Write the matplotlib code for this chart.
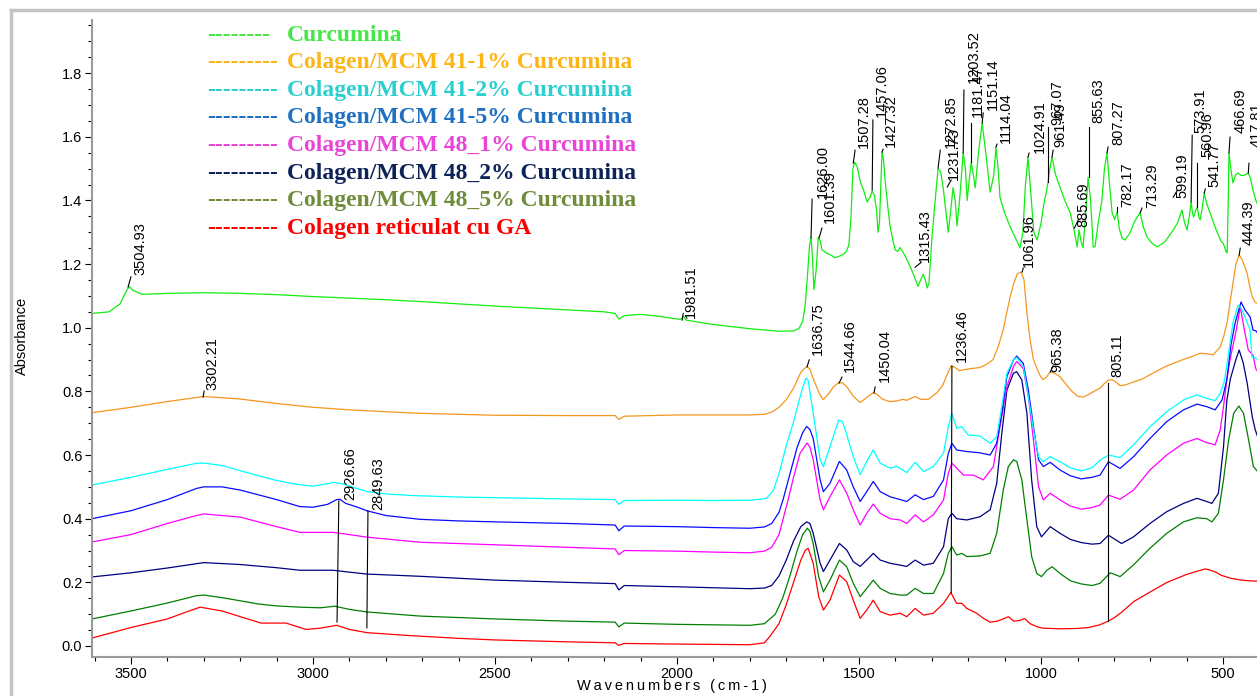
import matplotlib
matplotlib.use('Agg')
import matplotlib.pyplot as plt
from matplotlib.ticker import MultipleLocator, FormatStrFormatter
from matplotlib.lines import Line2D

plt.rcParams['font.family'] = ['Liberation Sans', 'DejaVu Sans']

# ---------------- spectra (wavenumber, absorbance) ----------------
wn_cur = [3607, 3560, 3530, 3515, 3505, 3495, 3470, 3400, 3300, 3200, 3100, 3000, 2900, 2800, 2700, 2600,
          2500, 2400, 2300, 2200, 2170, 2160, 2145, 2100, 2050, 1990, 1982, 1975, 1900, 1800, 1720, 1680,
          1665, 1655, 1648, 1642, 1636, 1632, 1628, 1624, 1618, 1612, 1606, 1602, 1590, 1580, 1566, 1554,
          1544, 1535, 1528, 1522, 1517, 1512, 1505, 1497, 1487, 1478, 1470, 1464, 1458, 1452, 1448, 1444,
          1440, 1437, 1433, 1429, 1422, 1415, 1408, 1401, 1394, 1387, 1378, 1368, 1355, 1338, 1331, 1324,
          1318, 1313, 1308, 1300, 1291, 1283, 1276, 1269, 1262, 1255, 1249, 1242, 1236, 1231, 1224, 1214,
          1208, 1203, 1197, 1192, 1186, 1181, 1172, 1162, 1152, 1140, 1130, 1124, 1118, 1113, 1100, 1085,
          1070, 1058, 1050, 1043, 1036, 1028, 1020, 1011, 1000, 992, 985, 981, 976, 970, 960, 948, 935,
          920, 910, 901, 896, 890, 885, 878, 871, 864, 857, 852, 843, 833, 826, 819, 812, 805, 798, 791,
          785, 777, 769, 756, 745, 735, 728, 720, 709, 695, 681, 660, 637, 625, 613, 606, 599, 593, 588,
          584, 581, 575, 571, 567, 563, 557, 552, 545, 536, 520, 505, 500, 492, 489, 486, 484, 479, 473,
          466, 459, 450, 440, 431, 425, 418, 410, 403]
ab_cur = [1.045, 1.05, 1.075, 1.11, 1.13, 1.118, 1.105, 1.108, 1.11, 1.108, 1.104, 1.098, 1.093, 1.088, 1.082, 1.075,
          1.068, 1.062, 1.056, 1.05, 1.045, 1.027, 1.038, 1.042, 1.036, 1.026, 1.036, 1.024, 1.01, 0.997, 0.989, 0.99,
          0.998, 1.02, 1.07, 1.16, 1.26, 1.285, 1.22, 1.12, 1.18, 1.285, 1.27, 1.245, 1.235, 1.23, 1.22, 1.225,
          1.23, 1.24, 1.26, 1.35, 1.50, 1.52, 1.505, 1.46, 1.43, 1.395, 1.41, 1.43, 1.415, 1.37, 1.30, 1.33,
          1.46, 1.552, 1.53, 1.47, 1.39, 1.32, 1.28, 1.245, 1.24, 1.252, 1.235, 1.213, 1.18, 1.13, 1.15, 1.168,
          1.15, 1.125, 1.14, 1.28, 1.40, 1.50, 1.49, 1.44, 1.37, 1.30, 1.36, 1.44, 1.40, 1.32, 1.40, 1.55,
          1.50, 1.40, 1.47, 1.52, 1.48, 1.44, 1.55, 1.643, 1.55, 1.426, 1.48, 1.567, 1.50, 1.41, 1.36, 1.317,
          1.28, 1.251, 1.30, 1.45, 1.536, 1.42, 1.30, 1.276, 1.33, 1.392, 1.43, 1.458, 1.50, 1.536, 1.48, 1.442, 1.40,
          1.361, 1.31, 1.254, 1.307, 1.27, 1.251, 1.35, 1.473, 1.40, 1.254, 1.254, 1.33, 1.401, 1.50, 1.549, 1.45, 1.361, 1.34, 1.364,
          1.31, 1.28, 1.276, 1.298, 1.33, 1.35, 1.361, 1.32, 1.285, 1.265, 1.254, 1.27, 1.307, 1.33, 1.37, 1.33, 1.307, 1.35, 1.395,
          1.36, 1.348, 1.37, 1.379, 1.35, 1.339, 1.38, 1.423, 1.39, 1.361, 1.31, 1.27, 1.266, 1.24, 1.235, 1.40, 1.549, 1.50, 1.455,
          1.48, 1.486, 1.478, 1.48, 1.486, 1.47, 1.433, 1.40, 1.38]

wn_41_1 = [3607, 3500, 3400, 3300, 3200, 3100, 3000, 2900, 2800, 2700, 2600, 2500, 2300, 2170, 2160, 2145,
           2000, 1900, 1800, 1760, 1740, 1720, 1700, 1680, 1660, 1650, 1643, 1635, 1626, 1610, 1599, 1585,
           1570, 1555, 1545, 1534, 1516, 1497, 1480, 1461, 1450, 1435, 1415, 1396, 1380, 1369, 1346, 1330,
           1310, 1286, 1270, 1258, 1247, 1236, 1225, 1214, 1190, 1168, 1150, 1132, 1118, 1104, 1094, 1085,
           1075, 1065, 1055, 1047, 1039, 1030, 1021, 1011, 1003, 995, 985, 975, 965, 948, 930, 915, 900,
           885, 870, 855, 838, 826, 815, 805, 795, 783, 770, 750, 720, 700, 655, 610, 580, 563, 545, 527,
           508, 498, 489, 481, 473, 465, 456, 448, 440, 434, 427, 420, 412, 403]
ab_41_1 = [0.733, 0.75, 0.768, 0.784, 0.776, 0.762, 0.75, 0.742, 0.736, 0.731, 0.728, 0.725, 0.724, 0.724, 0.712, 0.722,
           0.726, 0.726, 0.726, 0.728, 0.735, 0.75, 0.774, 0.81, 0.86, 0.872, 0.878, 0.87, 0.84, 0.795, 0.774, 0.79,
           0.815, 0.828, 0.826, 0.815, 0.785, 0.765, 0.78, 0.796, 0.79, 0.775, 0.768, 0.77, 0.775, 0.772, 0.784, 0.775,
           0.775, 0.796, 0.82, 0.853, 0.88, 0.875, 0.865, 0.868, 0.872, 0.875, 0.885, 0.90, 0.94, 0.994, 1.05, 1.097,
           1.14, 1.17, 1.175, 1.15, 1.047, 0.96, 0.90, 0.87, 0.85, 0.837, 0.845, 0.862, 0.858, 0.846, 0.82, 0.80, 0.785,
           0.782, 0.79, 0.80, 0.81, 0.825, 0.835, 0.837, 0.83, 0.818, 0.82, 0.828, 0.84, 0.853, 0.88, 0.90, 0.912, 0.92, 0.918, 0.915,
           0.94, 0.975, 1.016, 1.08, 1.14, 1.20, 1.229, 1.215, 1.19, 1.17, 1.13, 1.097, 1.08, 1.075]

wn_41_2 = [3607, 3500, 3400, 3320, 3300, 3250, 3150, 3100, 3050, 3000, 2960, 2945, 2920, 2880, 2850, 2800,
           2733, 2600, 2500, 2400, 2300, 2170, 2160, 2145, 2000, 1900, 1800, 1765, 1753, 1735, 1717, 1700,
           1681, 1665, 1657, 1646, 1640, 1626, 1607, 1598, 1580, 1556, 1546, 1538, 1516, 1497, 1479, 1461,
           1442, 1415, 1396, 1369, 1346, 1323, 1296, 1268, 1255, 1245, 1232, 1218, 1200, 1168, 1140, 1122,
           1108, 1094, 1076, 1067, 1049, 1035, 1021, 1007, 994, 975, 948, 920, 890, 860, 838, 815, 783, 746,
           701, 655, 609, 572, 545, 522, 508, 497, 485, 473, 459, 450, 440, 426, 421, 412, 403]
ab_41_2 = [0.506, 0.53, 0.555, 0.574, 0.575, 0.567, 0.535, 0.52, 0.509, 0.502, 0.51, 0.514, 0.51, 0.495, 0.485, 0.478,
           0.473, 0.468, 0.466, 0.464, 0.462, 0.46, 0.445, 0.457, 0.458, 0.457, 0.458, 0.462, 0.465, 0.49, 0.553, 0.63,
           0.70, 0.77, 0.804, 0.842, 0.835, 0.731, 0.585, 0.564, 0.626, 0.71, 0.705, 0.679, 0.595, 0.538, 0.58, 0.616,
           0.574, 0.559, 0.564, 0.545, 0.577, 0.548, 0.564, 0.606, 0.689, 0.731, 0.684, 0.689, 0.663, 0.66, 0.637, 0.658,
           0.752, 0.857, 0.899, 0.907, 0.878, 0.783, 0.679, 0.595, 0.579, 0.595, 0.579, 0.56, 0.55, 0.56, 0.584, 0.60, 0.592, 0.632,
           0.689, 0.736, 0.773, 0.789, 0.778, 0.771, 0.794, 0.83, 0.92, 1.015, 1.071, 1.06, 1.034, 0.993, 0.908, 0.905, 0.90]

wn_41_5 = [3607, 3500, 3400, 3320, 3300, 3250, 3200, 3100, 3036, 3000, 2960, 2935, 2926, 2910, 2880, 2852,
           2800, 2706, 2600, 2500, 2300, 2170, 2160, 2145, 2000, 1900, 1800, 1760, 1740, 1720, 1709, 1690,
           1670, 1655, 1644, 1635, 1626, 1607, 1598, 1580, 1554, 1534, 1516, 1497, 1479, 1461, 1442, 1415,
           1387, 1369, 1346, 1323, 1296, 1268, 1255, 1245, 1232, 1204, 1168, 1140, 1122, 1108, 1094, 1076,
           1067, 1049, 1035, 1021, 1007, 994, 975, 948, 920, 890, 860, 838, 815, 783, 746, 701, 655, 609,
           572, 545, 522, 503, 490, 478, 467, 451, 440, 426, 418, 410, 403]
ab_41_5 = [0.40, 0.425, 0.46, 0.495, 0.50, 0.50, 0.49, 0.46, 0.438, 0.436, 0.445, 0.46, 0.461, 0.448, 0.437, 0.425,
           0.41, 0.398, 0.393, 0.39, 0.385, 0.38, 0.362, 0.377, 0.375, 0.372, 0.37, 0.374, 0.385, 0.42, 0.459, 0.54,
           0.625, 0.67, 0.69, 0.68, 0.652, 0.522, 0.485, 0.511, 0.58, 0.553, 0.50, 0.454, 0.485, 0.517, 0.485, 0.469,
           0.46, 0.454, 0.475, 0.46, 0.47, 0.522, 0.605, 0.637, 0.616, 0.611, 0.607, 0.60, 0.637, 0.731, 0.846, 0.899,
           0.911, 0.888, 0.804, 0.689, 0.585, 0.564, 0.577, 0.553, 0.535, 0.525, 0.53, 0.537, 0.579, 0.558, 0.595, 0.652, 0.705, 0.742,
           0.76, 0.752, 0.742, 0.773, 0.836, 0.95, 1.015, 1.081, 1.056, 1.034, 0.993, 0.99, 0.98]

wn_48_1 = [3607, 3500, 3400, 3320, 3300, 3200, 3100, 3036, 2945, 2900, 2852, 2706, 2500, 2300, 2170, 2160,
           2145, 2000, 1900, 1800, 1760, 1740, 1720, 1695, 1680, 1662, 1643, 1635, 1626, 1607, 1598, 1580,
           1554, 1534, 1516, 1497, 1479, 1461, 1442, 1415, 1387, 1369, 1346, 1323, 1296, 1268, 1255, 1245,
           1232, 1213, 1186, 1159, 1131, 1113, 1094, 1076, 1067, 1049, 1035, 1021, 1007, 994, 975, 948, 920,
           890, 860, 838, 815, 783, 746, 701, 655, 609, 572, 545, 522, 508, 499, 490, 481, 464, 453, 440,
           431, 418, 410, 403]
ab_48_1 = [0.327, 0.35, 0.385, 0.41, 0.415, 0.405, 0.375, 0.357, 0.357, 0.35, 0.342, 0.326, 0.318, 0.31, 0.305, 0.287,
           0.30, 0.298, 0.295, 0.293, 0.298, 0.31, 0.35, 0.459, 0.53, 0.606, 0.638, 0.625, 0.585, 0.459, 0.428, 0.469,
           0.522, 0.48, 0.428, 0.38, 0.417, 0.446, 0.417, 0.40, 0.396, 0.385, 0.412, 0.39, 0.412, 0.459, 0.543, 0.574,
           0.559, 0.537, 0.537, 0.522, 0.564, 0.689, 0.815, 0.878, 0.894, 0.872, 0.783, 0.647, 0.50, 0.459, 0.48, 0.459, 0.44,
           0.43, 0.435, 0.443, 0.474, 0.461, 0.49, 0.553, 0.60, 0.637, 0.652, 0.639, 0.632, 0.679, 0.752, 0.836, 0.90, 0.993, 1.065, 0.983,
           0.93, 0.914, 0.87, 0.86]

wn_48_2 = [3607, 3500, 3400, 3300, 3200, 3100, 3036, 2945, 2900, 2852, 2706, 2500, 2300, 2170, 2160, 2145,
           2000, 1900, 1800, 1760, 1740, 1720, 1700, 1680, 1660, 1644, 1635, 1626, 1607, 1598, 1580, 1554,
           1534, 1516, 1497, 1479, 1461, 1442, 1415, 1387, 1369, 1346, 1323, 1296, 1268, 1255, 1245, 1232,
           1204, 1168, 1140, 1122, 1108, 1094, 1076, 1067, 1053, 1039, 1026, 1012, 999, 975, 948, 920, 890,
           860, 838, 815, 779, 746, 701, 655, 609, 572, 545, 531, 513, 499, 490, 480, 465, 456, 445, 434,
           420, 412, 403]
ab_48_2 = [0.217, 0.23, 0.245, 0.262, 0.256, 0.246, 0.238, 0.238, 0.232, 0.226, 0.219, 0.207, 0.20, 0.196, 0.176, 0.19,
           0.186, 0.183, 0.18, 0.182, 0.19, 0.22, 0.27, 0.33, 0.375, 0.39, 0.385, 0.354, 0.26, 0.234, 0.27, 0.322,
           0.302, 0.265, 0.25, 0.27, 0.291, 0.27, 0.26, 0.254, 0.25, 0.27, 0.254, 0.26, 0.312, 0.40, 0.417, 0.40,
           0.396, 0.406, 0.428, 0.511, 0.668, 0.804, 0.857, 0.862, 0.836, 0.731, 0.522, 0.375, 0.343, 0.375, 0.354, 0.335, 0.325,
           0.32, 0.322, 0.348, 0.322, 0.343, 0.385, 0.422, 0.448, 0.464, 0.454, 0.448, 0.48, 0.626, 0.77, 0.84, 0.90, 0.93, 0.89, 0.826,
           0.72, 0.68, 0.65]

wn_48_5 = [3607, 3500, 3400, 3320, 3300, 3250, 3150, 3100, 3036, 2980, 2940, 2900, 2852, 2706, 2500, 2300,
           2170, 2160, 2145, 2000, 1800, 1760, 1730, 1710, 1690, 1670, 1655, 1642, 1635, 1626, 1611, 1598,
           1580, 1554, 1534, 1516, 1497, 1479, 1461, 1442, 1415, 1387, 1369, 1346, 1323, 1296, 1268, 1255,
           1245, 1232, 1218, 1204, 1168, 1140, 1122, 1104, 1090, 1076, 1067, 1053, 1039, 1026, 1012, 999, 984,
           970, 948, 920, 890, 860, 838, 810, 783, 746, 701, 655, 609, 572, 545, 531, 513, 499, 485, 471,
           457, 444, 430, 417, 403]
ab_48_5 = [0.085, 0.11, 0.135, 0.158, 0.16, 0.152, 0.132, 0.126, 0.122, 0.12, 0.125, 0.115, 0.107, 0.094, 0.085, 0.078,
           0.075, 0.06, 0.072, 0.068, 0.065, 0.07, 0.10, 0.15, 0.22, 0.30, 0.35, 0.37, 0.36, 0.322, 0.218, 0.17,
           0.207, 0.27, 0.249, 0.197, 0.155, 0.181, 0.207, 0.181, 0.165, 0.16, 0.16, 0.181, 0.165, 0.165, 0.228, 0.291,
           0.312, 0.286, 0.291, 0.281, 0.283, 0.291, 0.354, 0.49, 0.564, 0.585, 0.58, 0.522, 0.396, 0.281, 0.228, 0.218, 0.238,
           0.249, 0.228, 0.205, 0.195, 0.19, 0.197, 0.23, 0.218, 0.255, 0.307, 0.354, 0.39, 0.403, 0.40, 0.39, 0.417, 0.522, 0.647, 0.731,
           0.754, 0.731, 0.647, 0.564, 0.545]

wn_ga = [3607, 3500, 3400, 3340, 3310, 3250, 3143, 3074, 3019, 2980, 2935, 2900, 2852, 2739, 2600, 2500,
         2300, 2170, 2160, 2145, 2000, 1800, 1760, 1745, 1720, 1700, 1680, 1660, 1648, 1640, 1626, 1611,
         1598, 1580, 1554, 1534, 1516, 1497, 1479, 1461, 1442, 1415, 1387, 1369, 1346, 1323, 1296, 1268,
         1248, 1232, 1218, 1204, 1177, 1159, 1140, 1120, 1100, 1090, 1075, 1060, 1045, 1030, 1010, 995, 950,
         900, 870, 840, 816, 800, 780, 760, 745, 700, 654, 600, 571, 550, 540, 520, 505, 480, 450, 430,
         409, 403]
ab_ga = [0.025, 0.058, 0.085, 0.11, 0.122, 0.11, 0.072, 0.072, 0.052, 0.056, 0.065, 0.052, 0.042, 0.033, 0.024, 0.019,
         0.013, 0.01, 0.002, 0.008, 0.006, 0.004, 0.01, 0.03, 0.07, 0.13, 0.20, 0.27, 0.30, 0.307, 0.26, 0.155,
         0.113, 0.144, 0.223, 0.202, 0.144, 0.087, 0.113, 0.144, 0.108, 0.097, 0.103, 0.092, 0.118, 0.097, 0.103, 0.134,
         0.168, 0.134, 0.134, 0.118, 0.103, 0.087, 0.075, 0.078, 0.087, 0.092, 0.078, 0.08, 0.086, 0.07, 0.06, 0.056, 0.054,
         0.055, 0.058, 0.066, 0.078, 0.088, 0.105, 0.125, 0.14, 0.17, 0.20, 0.225, 0.235, 0.242, 0.24, 0.232, 0.222, 0.213, 0.207, 0.205,
         0.204, 0.203]

# legend text and colours
names = ['Curcumina', 'Colagen/MCM 41-1% Curcumina', 'Colagen/MCM 41-2% Curcumina',
         'Colagen/MCM 41-5% Curcumina', 'Colagen/MCM 48_1% Curcumina', 'Colagen/MCM 48_2% Curcumina',
         'Colagen/MCM 48_5% Curcumina', 'Colagen reticulat cu GA']
line_cols = ['#10ee10', '#f5961e', '#00ffff', '#0a0aff', '#ff00ff', '#000080', '#008000', '#ff0000']
text_cols = ['#44e844', '#fdb515', '#2ccfcf', '#1f70c1', '#e845d8', '#0d2257', '#6f8c3a', '#ff0000']

# peak labels: text, text x, text bottom y, leader line (x0, y0, x1, y1)
peaks = [
    ('3504.93', 3475, 1.165, 3508, 1.128, 3500, 1.16),
    ('1981.51', 1962, 1.03, 1986, 1.024, 1983, 1.045),
    ('1626.00', 1599, 1.407, 1632, 1.282, 1629, 1.404),
    ('1601.39', 1580, 1.329, 1610, 1.282, 1602, 1.313),
    ('1507.28', 1486, 1.565, 1516, 1.517, 1511, 1.558),
    ('1457.06', 1437, 1.662, 1464, 1.433, 1462, 1.653),
    ('1427.32', 1412, 1.568, 1437, 1.552, 1434, 1.561),
    ('1315.43', 1319, 1.206, 1346, 1.19, 1330, 1.205),
    ('1272.85', 1247, 1.565, 1283, 1.502, 1277, 1.558),
    ('1231.73', 1239, 1.464, 1258, 1.442, 1247, 1.464),
    ('1203.52', 1184, 1.769, 1214, 1.549, 1212, 1.747),
    ('1181.47', 1173, 1.662, 1192, 1.521, 1192, 1.643),
    ('1151.14', 1132, 1.684, 1162, 1.643, 1159, 1.675),
    ('1114.04', 1096, 1.58, 1124, 1.568, 1121, 1.577),
    ('1061.96', 1033, 1.191, 1052, 1.175, 1049, 1.188),
    ('1024.91', 1003, 1.549, 1036, 1.536, 1033, 1.549),
    ('967.07', 956, 1.637, 981, 1.458, 981, 1.631),
    ('961.49', 948, 1.568, 970, 1.536, 967, 1.558),
    ('885.69', 885, 1.316, 909, 1.313, 898, 1.338),
    ('855.63', 843, 1.643, 868, 1.473, 868, 1.631),
    ('807.27', 788, 1.574, 819, 1.549, 816, 1.568),
    ('782.17', 764, 1.379, 791, 1.364, 791, 1.379),
    ('713.29', 695, 1.376, 728, 1.361, 723, 1.376),
    ('599.19', 613, 1.407, 637, 1.41, 627, 1.43),
    ('573.91', 561, 1.612, 588, 1.395, 585, 1.605),
    ('560.96', 544, 1.536, 571, 1.379, 571, 1.517),
    ('541.77', 525, 1.442, 552, 1.423, 549, 1.436),
    ('466.69', 453, 1.612, 484, 1.549, 481, 1.599),
    ('417.81', 407, 1.568, 431, 1.486, 429, 1.517),
    ('3302.21', 3277, 0.804, 3302, 0.782, 3299, 0.801),
    ('1636.75', 1613, 0.914, 1643, 0.877, 1637, 0.899),
    ('1544.66', 1525, 0.861, 1555, 0.826, 1547, 0.845),
    ('1450.04', 1429, 0.829, 1459, 0.795, 1456, 0.814),
    ('1236.46', 1217, 0.892, 1247, 0.167, 1245, 0.88),
    ('965.38', 956, 0.861, 975, 0.861, 967, 0.88),
    ('805.11', 791, 0.845, 817, 0.079, 817, 0.826),
    ('444.39', 429, 1.26, 456, 1.228, 453, 1.25),
    ('2926.66', 2898, 0.459, 2934, 0.075, 2929, 0.456),
    ('2849.63', 2821, 0.427, 2852, 0.057, 2849, 0.424),
]

W, H = 1257, 696
fig = plt.figure(figsize=(W / 100, H / 100), dpi=100)
ax = fig.add_axes([92 / W, 1 - 657 / H, (W - 92) / W, (657 - 20) / H])

spectra = [(wn_ga, ab_ga, 7), (wn_48_5, ab_48_5, 6), (wn_48_2, ab_48_2, 5), (wn_48_1, ab_48_1, 4),
           (wn_41_5, ab_41_5, 3), (wn_41_2, ab_41_2, 2), (wn_41_1, ab_41_1, 1), (wn_cur, ab_cur, 0)]
for wn, ab, i in spectra:
    ax.plot(wn, ab, color=line_cols[i], lw=0.9)

# peak labels
for lab, tx, ty, x0, y0, x1, y1 in peaks:
    ax.plot([x0, x1], [y0, y1], color='black', lw=0.8)
    ax.text(tx, ty, lab, rotation=90, ha='center', va='bottom', fontsize=10.5, color='black')

ax.set_xlim(3607, 407)
ax.set_ylim(-0.0346, 1.967)
ax.xaxis.set_major_locator(MultipleLocator(500))
ax.xaxis.set_minor_locator(MultipleLocator(100))
ax.yaxis.set_major_locator(MultipleLocator(0.2))
ax.yaxis.set_minor_locator(MultipleLocator(0.05))
ax.yaxis.set_major_formatter(FormatStrFormatter('%.1f'))
ax.tick_params(which='major', direction='out', length=5, width=0.8, labelsize=10.5, pad=2)
ax.tick_params(which='minor', direction='out', length=3, width=0.8)
for s in ['top', 'right']:
    ax.spines[s].set_visible(False)
for s in ['left', 'bottom']:
    ax.spines[s].set_color('#9a9a9a')
    ax.spines[s].set_linewidth(1.5)

fig.text(22 / W, 1 - 336 / H, 'Absorbance', rotation=90, ha='center', va='center', fontsize=10.5)
fig.text(672 / W, 1 - 686 / H, '\u2009'.join('Wavenumbers (cm-1)'), ha='center', va='center', fontsize=10.5)

# coloured legend
serif = ['Liberation Serif', 'DejaVu Serif']
for i, name in enumerate(names):
    yb = 1 - (40.7 + 27.6 * i) / H
    dashes = '-' * (8 if i == 0 else 9)
    fig.text(207 / W, yb, dashes, color=text_cols[i], fontsize=17, fontweight='bold',
             family=serif, va='baseline', ha='left')
    fig.text(287 / W, yb, name, color=text_cols[i], fontsize=17, fontweight='bold',
             family=serif, va='baseline', ha='left')

# grey window frame
fig.add_artist(Line2D([11 / W, 11 / W], [0, 1 - 10 / H], transform=fig.transFigure, color='#c4c4c4', lw=2.5))
fig.add_artist(Line2D([11 / W, 1], [1 - 10 / H, 1 - 10 / H], transform=fig.transFigure, color='#c4c4c4', lw=2.5))

fig.savefig('out.png', dpi=100)
